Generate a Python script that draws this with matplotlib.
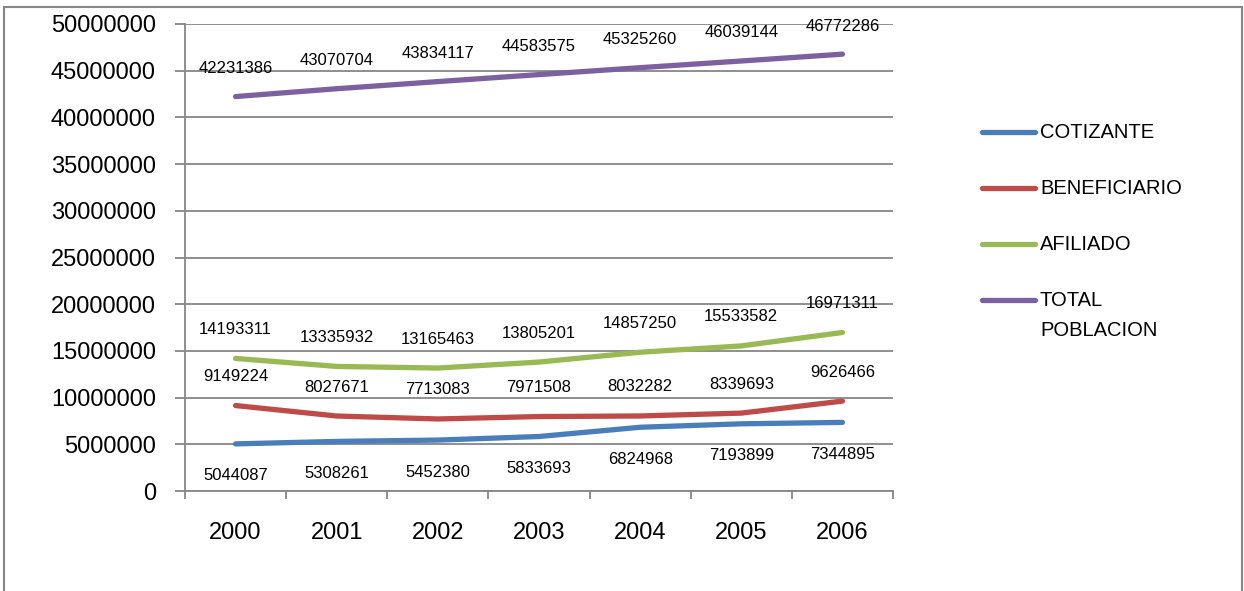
import matplotlib
matplotlib.use("Agg")
from matplotlib import pyplot as plt
from matplotlib.lines import Line2D
from matplotlib.patches import Rectangle

# data
years = ["2000", "2001", "2002", "2003", "2004", "2005", "2006"]
cotizante = [5044087, 5308261, 5452380, 5833693, 6824968, 7193899, 7344895]
beneficiario = [9149224, 8027671, 7713083, 7971508, 8032282, 8339693, 9626466]
afiliado = [14193311, 13335932, 13165463, 13805201, 14857250, 15533582, 16971311]
total_poblacion = [42231386, 43070704, 43834117, 44583575, 45325260, 46039144, 46772286]

# (label, values, colour, label offset in px)
series = [
    ("COTIZANTE", cotizante, "#4A7EBB", -32),
    ("BENEFICIARIO", beneficiario, "#BE4B48", 29),
    ("AFILIADO", afiliado, "#98B954", 29),
    ("TOTAL\nPOBLACION", total_poblacion, "#7D60A0", 28),
]

plt.rcParams["font.family"] = ["Liberation Sans", "DejaVu Sans"]
W, H = 1244, 591
fig = plt.figure(figsize=(W / 100, H / 100), dpi=100)
ax = fig.add_axes([185 / W, 1 - 491 / H, (893 - 185) / W, (491 - 24) / H])

grey = "#868686"
x = list(range(len(years)))
for name, vals, color, off in series:
    ax.plot(x, vals, color=color, lw=3.8, solid_capstyle="round", zorder=3)
    for xi, v in zip(x, vals):
        ax.annotate(str(v), (xi, v), xytext=(0, off), textcoords="offset pixels",
                    ha="center", va="center", fontsize=12, color="black")

ax.set_xlim(-0.5, len(years) - 0.5)
ax.set_ylim(0, 50000000)
yt = list(range(0, 50000001, 5000000))
ax.set_yticks(yt)
ax.set_yticklabels([str(v) for v in yt])
ax.set_xticks(x)
ax.set_xticklabels(years)
ax.set_xticks([i - 0.5 for i in range(len(years) + 1)], minor=True)
ax.tick_params(axis="x", which="major", length=0, pad=22, labelsize=17)
ax.tick_params(axis="x", which="minor", length=6, width=1.3, color=grey)
ax.tick_params(axis="y", length=7, width=1.3, color=grey, pad=14, labelsize=17)
ax.grid(axis="y", color=grey, lw=1.3)
ax.set_axisbelow(True)
for s in ["top", "right"]:
    ax.spines[s].set_visible(False)
for s in ["left", "bottom"]:
    ax.spines[s].set_color(grey)
    ax.spines[s].set_linewidth(1.3)

# legend drawn by hand so the handle lines up with the first text line
rows = [132, 188, 244, 300]
for (name, vals, color, off), yrow in zip(series, rows):
    fy = 1 - yrow / H
    fig.add_artist(Line2D([982 / W, 1035 / W], [fy, fy], color=color, lw=3.8,
                          solid_capstyle="round"))
    for k, line in enumerate(name.split("\n")):
        fig.text(1040 / W, 1 - (yrow + 30 * k) / H, line, fontsize=14.5, va="center")

# chart frame
fig.add_artist(Rectangle((4 / W, -0.1), (1242 - 4) / W, 1.1 - 7 / H,
                         transform=fig.transFigure, fill=False, ec=grey, lw=1.5))

fig.savefig("out.png", dpi=100)
